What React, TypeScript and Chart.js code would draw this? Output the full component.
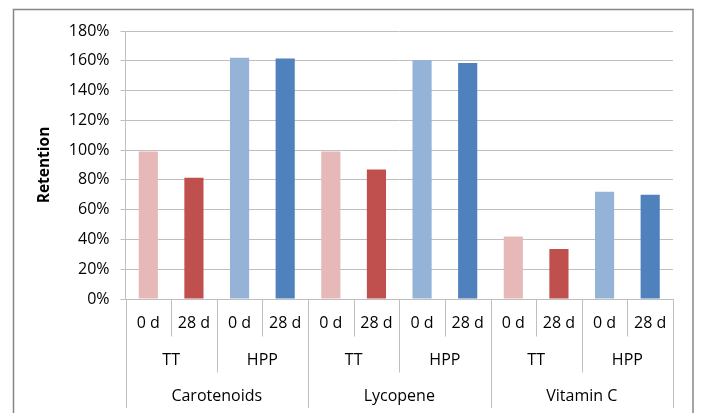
import React, { useEffect, useRef } from "react";
import { Chart, registerables } from "chart.js";

Chart.register(...registerables);

const nutrients = ["Carotenoids", "Lycopene", "Vitamin C"];
const treatments = ["TT", "HPP"];
const days = ["0 d", "28 d"];
const retention = [0.99, 0.815, 1.62, 1.615, 0.99, 0.87, 1.605, 1.585, 0.42, 0.335, 0.72, 0.70];
const barColors = ["#E6B9B8", "#C0504D", "#95B3D7", "#4F81BD"];
const yTicks = [0, 0.2, 0.4, 0.6, 0.8, 1.0, 1.2, 1.4, 1.6, 1.8];

const FONT = "'Open Sans', 'Liberation Sans', sans-serif";
const GRID = "#BFBFBF";

const categories: string[] = [];
nutrients.forEach(() => treatments.forEach(() => days.forEach((d) => categories.push(d))));

const axisPlugin = {
  id: "multiLevelAxis",
  afterDraw(chart: any) {
    const ctx = chart.ctx;
    const x = chart.scales.x;
    const area = chart.chartArea;
    const n = categories.length;
    const step = (x.getPixelForValue(1) - x.getPixelForValue(0));
    const edge = (i: number) => x.getPixelForValue(i) - step / 2;
    const y0 = area.bottom;
    const y1 = 336.5, y2 = 372.5, y3 = 408;
    ctx.save();
    ctx.strokeStyle = GRID;
    ctx.lineWidth = 1;
    for (let i = 0; i <= n; i++) {
      let yEnd = y1;
      if (i % 2 === 0) yEnd = y2;
      if (i % 4 === 0) yEnd = y3;
      const px = Math.round(edge(i)) + 0.5;
      ctx.beginPath();
      ctx.moveTo(px, y0);
      ctx.lineTo(px, yEnd);
      ctx.stroke();
    }
    ctx.fillStyle = "#000";
    ctx.textAlign = "center";
    ctx.textBaseline = "middle";
    ctx.font = `16px ${FONT}`;
    for (let i = 0; i < n; i++) {
      ctx.fillText(categories[i], x.getPixelForValue(i), 323);
    }
    let k = 0;
    nutrients.forEach((nut, ni) => {
      treatments.forEach((t) => {
        const cx = (edge(k) + edge(k + 2)) / 2;
        ctx.fillText(t, cx, 360);
        k += 2;
      });
      const gx = (edge(ni * 4) + edge(ni * 4 + 4)) / 2;
      ctx.fillText(nut, gx, 396);
    });
    // outer border
    ctx.strokeStyle = "#868686";
    ctx.lineWidth = 1.5;
    ctx.strokeRect(13.5, 9.5, 679.5, 420);
    ctx.restore();
  },
};

export default function App() {
  const ref = useRef<HTMLCanvasElement>(null);
  useEffect(() => {
    document.body.style.margin = "0";
    const chart = new Chart(ref.current!, {
      type: "bar",
      data: {
        labels: categories,
        datasets: [
          {
            data: retention,
            backgroundColor: retention.map((_, i) => barColors[i % 4]),
            barPercentage: 0.42,
            categoryPercentage: 1,
          },
        ],
      },
      options: {
        responsive: false,
        animation: false,
        layout: { padding: { top: 31, right: 28, bottom: 114, left: 0 } },
        plugins: { legend: { display: false }, tooltip: { enabled: false } },
        scales: {
          x: { display: false },
          y: {
            min: 0,
            max: 1.8,
            afterFit(scale: any) {
              scale.width = 125.5;
            },
            afterBuildTicks(scale: any) {
              scale.ticks = yTicks.map((v) => ({ value: v }));
            },
            ticks: {
              stepSize: 0.2,
              padding: 11,
              color: "#000",
              font: { family: FONT, size: 16 },
              callback: (v: any) => `${Math.round(Number(v) * 100)}%`,
            },
            grid: { color: GRID, lineWidth: 1, tickLength: 5 },
            border: { display: true, color: GRID },
            title: {
              display: true,
              text: "Retention",
              color: "#000",
              font: { family: FONT, size: 15.5, weight: "bold" },
              padding: { top: 35, bottom: 0 },
            },
          },
        },
      },
      plugins: [axisPlugin],
    });
    return () => chart.destroy();
  }, []);
  return (
    <div style={{ position: "fixed", left: 0, top: 0, width: 701, height: 413, background: "#fff" }}>
      <canvas ref={ref} width={701} height={413} />
    </div>
  );
}
